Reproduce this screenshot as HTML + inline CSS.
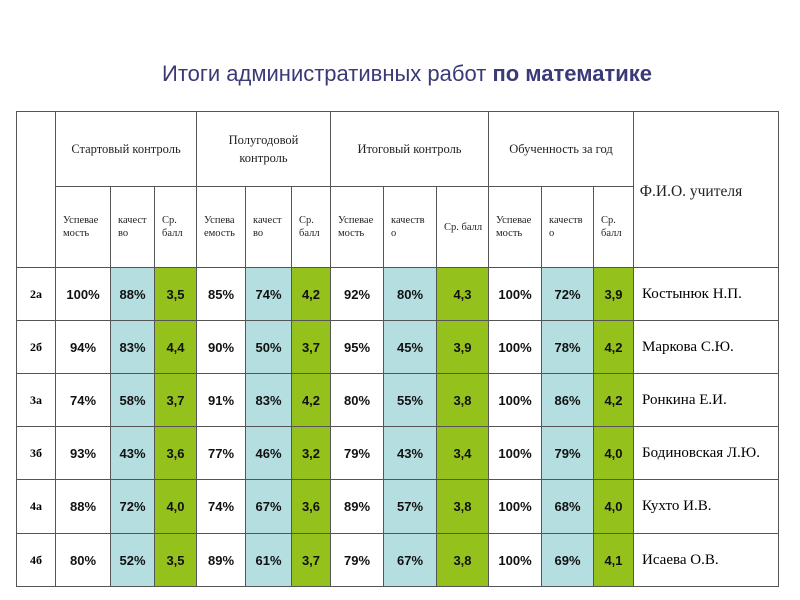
<!DOCTYPE html>
<html><head><meta charset="utf-8">
<style>
body{margin:0;width:800px;height:600px;background:#fff;position:relative;overflow:hidden;font-family:"Liberation Sans",sans-serif}
.c{position:absolute;box-sizing:border-box;border:1px solid #555;display:flex;align-items:center;justify-content:center;text-align:center}
.h{font-family:"Liberation Serif",serif;color:#222}
.sm{font-size:10.5px;line-height:13px;justify-content:flex-start;text-align:left;padding-left:7px}
.d{font-weight:bold;font-size:13px;color:#111}
.cls{font-family:"Liberation Serif",serif;font-weight:bold;font-size:12px}
.nm{font-family:"Liberation Serif",serif;font-size:15px;justify-content:flex-start;padding-left:8px}
#title{position:absolute;left:0;width:814px;top:61px;text-align:center;font-size:22px;color:#3a3a78}
</style></head><body>
<div id="title">Итоги административных работ <b>по математике</b></div>
<div id="t"></div>
<script>
const classes=["2а","2б","3а","3б","4а","4б"];
const start=[["100%","88%","3,5"],["94%","83%","4,4"],["74%","58%","3,7"],["93%","43%","3,6"],["88%","72%","4,0"],["80%","52%","3,5"]];
const half=[["85%","74%","4,2"],["90%","50%","3,7"],["91%","83%","4,2"],["77%","46%","3,2"],["74%","67%","3,6"],["89%","61%","3,7"]];
const fin=[["92%","80%","4,3"],["95%","45%","3,9"],["80%","55%","3,8"],["79%","43%","3,4"],["89%","57%","3,8"],["79%","67%","3,8"]];
const year=[["100%","72%","3,9"],["100%","78%","4,2"],["100%","86%","4,2"],["100%","79%","4,0"],["100%","68%","4,0"],["100%","69%","4,1"]];
const teachers=["Костынюк Н.П.","Маркова С.Ю.","Ронкина Е.И.","Бодиновская Л.Ю.","Кухто И.В.","Исаева О.В."];
const groups=["Стартовый контроль","Полугодовой<br>контроль","Итоговый контроль","Обученность за год"];
const subs=[["Успевае<br>мость","качест<br>во","Ср.<br>балл"],["Успева<br>емость","качест<br>во","Ср.<br>балл"],["Успевае<br>мость","качеств<br>о","Ср. балл"],["Успевае<br>мость","качеств<br>о","Ср.<br>балл"]];
const X=[16,55,110,154,196,245,291,330,383,436,488,541,593,633,778];
const Y0=111,Y1=186,Y2=267,RH=53.1;
const T=document.getElementById('t');
function cell(x1,y1,x2,y2,cls,html,bg){
  const e=document.createElement('div');
  e.className='c '+cls;
  e.style.left=x1+'px';e.style.top=y1+'px';
  e.style.width=(x2-x1+1)+'px';e.style.height=(y2-y1+1)+'px';
  if(bg)e.style.background=bg;
  e.innerHTML=html;T.appendChild(e);return e;
}
let e=cell(X[0],Y0,X[1],Y2,'h','');


for(let g=0;g<4;g++){
  e=cell(X[1+3*g],Y0,X[4+3*g],Y1,'h','<span style="font-size:12.5px;line-height:18px">'+groups[g]+'</span>');
  
  
  for(let s=0;s<3;s++){
    e=cell(X[1+3*g+s],Y1,X[2+3*g+s],Y2,'h sm',subs[g][s]);
    
    
  }
}
e=cell(X[13],Y0,X[14],Y2,'h','<span style="font-size:15.5px;margin-left:-30px;margin-top:4px">Ф.И.О. учителя</span>');


const sets=[start,half,fin,year];
const bgs=[null,'#b5dee0','#95c11c'];
for(let r=0;r<classes.length;r++){
  const y1=Math.round(Y2+r*RH),y2=Math.round(Y2+(r+1)*RH);
  e=cell(X[0],y1,X[1],y2,'cls',classes[r]);
  
  
  for(let g=0;g<4;g++)for(let s=0;s<3;s++){
    e=cell(X[1+3*g+s],y1,X[2+3*g+s],y2,'d',sets[g][r][s],bgs[s]);
    
    
  }
  e=cell(X[13],y1,X[14],y2,'nm',teachers[r]);
  
  
}
</script>
</body></html>
